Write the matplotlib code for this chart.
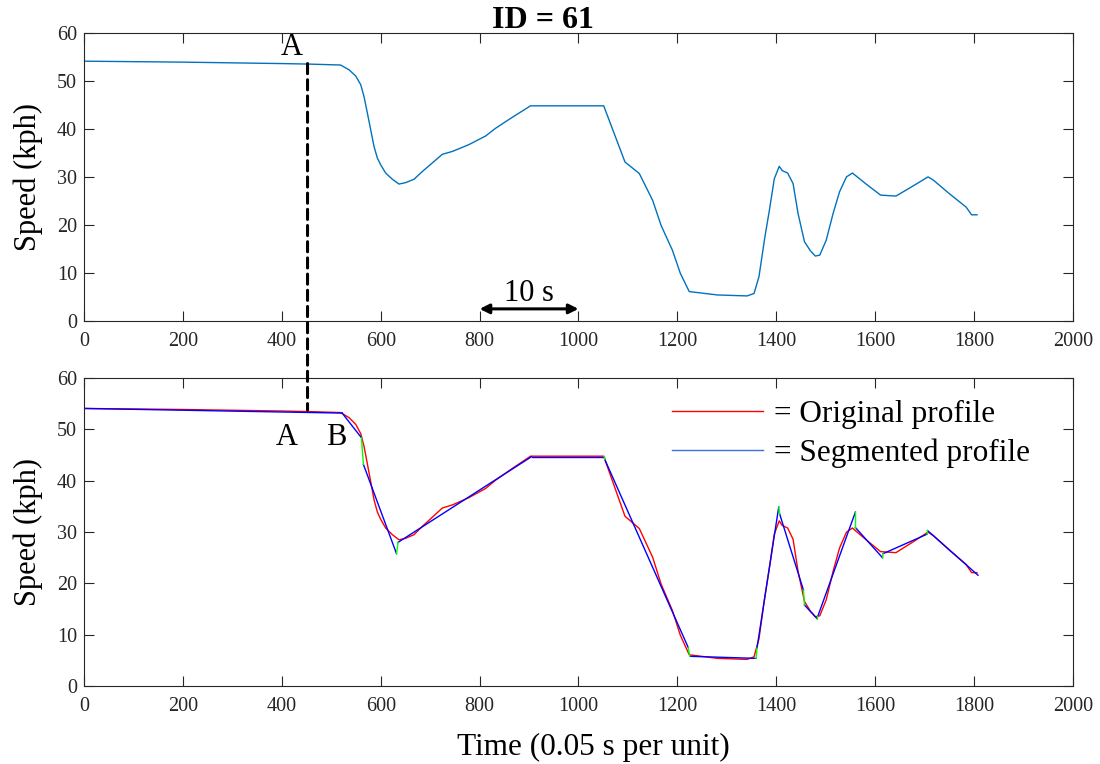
import numpy as np
import matplotlib
matplotlib.use("Agg")
import matplotlib.pyplot as plt
from matplotlib.lines import Line2D
from matplotlib.patches import ConnectionPatch

plt.rcParams['font.family'] = ['Liberation Serif', 'DejaVu Serif']

# original speed profile (time index, kph)
orig_t = [0, 200, 400, 452, 519, 536, 549.5, 559.6, 566.3, 573, 579.8, 586.5, 593.3, 600,
          610, 623.6, 637, 650.5, 667.3, 684, 724.6, 745, 778, 812, 832, 866, 903, 1051,
          1094, 1123, 1150, 1167, 1190, 1206, 1224, 1281, 1341, 1355, 1365, 1377, 1386,
          1396, 1406, 1412, 1423, 1434, 1444, 1457, 1469, 1479, 1488, 1501, 1515, 1528,
          1542, 1554, 1583, 1611, 1642, 1675, 1707, 1718, 1750, 1784, 1795, 1806]
orig_v = [54.1, 53.9, 53.6, 53.5, 53.3, 52.3, 51.0, 49.2, 46.7, 43.3, 39.8, 36.3, 33.9, 32.5,
          30.8, 29.5, 28.5, 28.8, 29.5, 31.1, 34.7, 35.3, 36.7, 38.5, 40.1, 42.4, 44.8, 44.8,
          33.1, 30.7, 25.1, 19.9, 14.7, 9.9, 6.1, 5.4, 5.2, 5.7, 9.2, 17.5, 23.0,
          29.6, 32.2, 31.3, 30.8, 28.6, 22.4, 16.5, 14.6, 13.5, 13.7, 16.8, 22.4, 26.9,
          30.0, 30.8, 28.4, 26.2, 26.0, 28.0, 30.0, 29.3, 26.5, 23.7, 22.1, 22.1]

# segmented profile: start / end of each linear segment
seg_t0 = [0, 522, 565, 635, 905, 1053, 1225, 1361, 1407, 1457, 1484, 1560, 1616, 1706]
seg_v0 = [54.1, 53.2, 43.2, 28.0, 44.7, 44.2, 5.8, 7.4, 33.5, 15.8, 13.6, 30.9, 25.8, 30.3]
seg_t1 = [522, 561, 632, 905, 1052, 1222, 1359, 1405, 1455, 1483, 1560, 1615, 1705, 1808]
seg_v1 = [53.2, 48.4, 25.8, 44.7, 44.7, 7.5, 5.4, 34.9, 18.7, 13.1, 33.9, 25.0, 29.6, 21.6]

point_a = (452, 53.6)

fig = plt.figure(figsize=(11, 7.64), dpi=100)
ax1 = fig.add_axes([0.0764, 0.580, 0.899, 0.377])
ax2 = fig.add_axes([0.0764, 0.102, 0.899, 0.403])

for ax in (ax1, ax2):
    ax.set_xlim(0, 2000)
    ax.set_ylim(0, 60)
    ax.set_xticks(np.arange(0, 2001, 200))
    ax.set_yticks(np.arange(0, 61, 10))
    ax.tick_params(direction='in', top=True, right=True, length=7, width=0.8,
                   labelsize=14.5, colors='#262626', pad=5)
    ax.tick_params(axis='x', pad=8)
    for s in ax.spines.values():
        s.set_color('#262626')
        s.set_linewidth(0.8)
    ax.set_ylabel('Speed (kph)', fontsize=22, labelpad=10)

# top: raw profile
ax1.plot(orig_t, orig_v, color='#0072BD', lw=1.0)
fig.text(0.494, 0.963, 'ID = 61', fontsize=23, fontweight='bold', ha='center', va='baseline')
ax1.text(420, 57.0, 'A', fontsize=22, ha='center', va='center')
ax1.annotate('', xy=(1000, 2.5), xytext=(800, 2.5),
             arrowprops=dict(arrowstyle='<|-|>', color='black', lw=2.2,
                             mutation_scale=14, shrinkA=0, shrinkB=0))
ax1.text(900, 5.6, '10 s', fontsize=22, ha='center', va='center')

# bottom: original vs segmented
ax2.plot(orig_t, orig_v, color='#FF0000', lw=1.0)
for i in range(len(seg_t0)):
    ax2.plot([seg_t0[i], seg_t1[i]], [seg_v0[i], seg_v1[i]], color='#0000FF', lw=1.0)
for i in range(len(seg_t0) - 1):
    ax2.plot([seg_t1[i], seg_t0[i + 1]], [seg_v1[i], seg_v0[i + 1]], color='#00FF00', lw=1.0)

ax2.text(410, 48.5, 'A', fontsize=22, ha='center', va='center')
ax2.text(510, 48.5, 'B', fontsize=22, ha='center', va='center')
ax2.set_xlabel('Time (0.05 s per unit)', fontsize=22.5, labelpad=12, x=0.515)

handles = [Line2D([], [], color='#FF0000', lw=1.0),
           Line2D([], [], color='#3D6FD9', lw=1.0)]
ax2.legend(handles, ['= Original profile', '= Segmented profile'], frameon=False,
           fontsize=22.5, loc='upper left', bbox_to_anchor=(0.595, 0.93), borderpad=0,
           borderaxespad=0, handlelength=2.9, handletextpad=0.35, labelspacing=0.3)

# dashed marker linking point A across both panels
con = ConnectionPatch(xyA=point_a, coordsA=ax1.transData,
                      xyB=(point_a[0], 53.8), coordsB=ax2.transData,
                      color='black', lw=2.2, linestyle=(0, (3.3, 2.0)))
fig.add_artist(con)

fig.savefig('out.png', dpi=100)
